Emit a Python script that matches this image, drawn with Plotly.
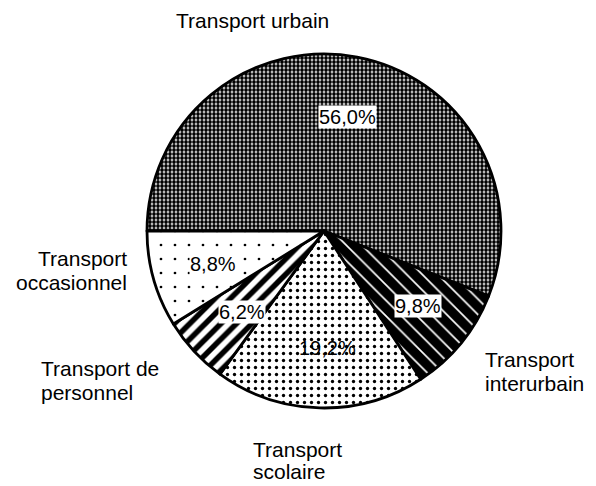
import plotly.graph_objects as go

categories = ["Transport urbain", "Transport interurbain", "Transport scolaire",
              "Transport de personnel", "Transport occasionnel"]
values = [56.0, 9.8, 19.2, 6.2, 8.8]
value_labels = ["56,0%", "9,8%", "19,2%", "6,2%", "8,8%"]
outer_labels = [["Transport urbain"], ["Transport", "interurbain"], ["Transport", "scolaire"],
                ["Transport de", "personnel"], ["Transport", "occasionnel"]]

W, H = 596, 486
cx, cy, r = 324, 231, 177

patterns = [
    dict(shape=".", size=4, solidity=0.7, fgcolor="black", bgcolor="white"),
    dict(shape="\\", size=11, solidity=0.85, fgcolor="black", bgcolor="white"),
    dict(shape=".", size=7, solidity=0.18, fgcolor="black", bgcolor="white"),
    dict(shape="/", size=11, solidity=0.5, fgcolor="black", bgcolor="white"),
    dict(shape=".", size=14, solidity=0.03, fgcolor="black", bgcolor="white"),
]

fig = go.Figure(go.Pie(
    labels=categories, values=values, sort=False, direction="clockwise",
    rotation=270, textinfo="none", hoverinfo="label+percent",
    marker=dict(colors=["white"] * 5, line=dict(color="black", width=2.8),
                pattern=dict(
                    shape=[p["shape"] for p in patterns],
                    size=[p["size"] for p in patterns],
                    solidity=[p["solidity"] for p in patterns],
                    fgcolor=[p["fgcolor"] for p in patterns],
                    bgcolor=[p["bgcolor"] for p in patterns],
                    fillmode="replace")),
    domain=dict(x=[(cx - r) / W, (cx + r) / W], y=[1 - (cy + r) / H, 1 - (cy - r) / H]),
    showlegend=False,
))

pct_font = dict(family="Liberation Sans, Arial, sans-serif", size=20, color="black")
lab_font = dict(family="Liberation Sans, Arial, sans-serif", size=21, color="black")

# percentage label positions (pixels) and backgrounds
pct_pos = [(347, 117), (418, 306), (327, 348), (242, 312), (213, 264)]
pct_bg = ["white", "white", "rgba(0,0,0,0)", "white", "white"]
# outer label anchor x, first-line y, alignment, line step
lab_pos = [(252, 20, "center", 24), (484, 359, "left", 24), (252, 449, "left", 22),
           (40, 368, "left", 24), (128, 258, "right", 24)]

ann = []
for txt, (x, y), bg in zip(value_labels, pct_pos, pct_bg):
    ann.append(dict(text=txt, x=x / W, y=1 - y / H, xref="paper", yref="paper",
                    showarrow=False, font=pct_font, bgcolor=bg, borderpad=0,
                    xanchor="center", yanchor="middle"))
for lines, (x, y, al, step) in zip(outer_labels, lab_pos):
    for i, line in enumerate(lines):
        ann.append(dict(text=line, x=x / W, y=1 - (y + i * step) / H,
                        xref="paper", yref="paper", showarrow=False, font=lab_font,
                        xanchor=al, yanchor="middle", borderpad=0))

fig.update_layout(width=W, height=H, margin=dict(l=0, r=0, t=0, b=0),
                  paper_bgcolor="white", plot_bgcolor="white", annotations=ann)
fig.write_html("out.html", config={"displayModeBar": False},
               post_script="document.body.style.margin='0';document.body.style.overflow='hidden';")
